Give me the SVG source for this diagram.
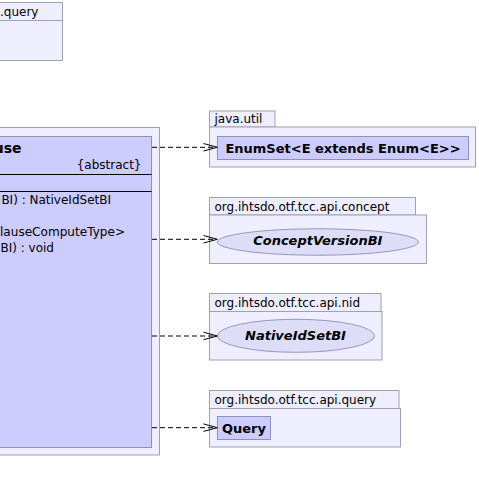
<svg xmlns="http://www.w3.org/2000/svg" width="479" height="493" viewBox="0 0 479 493">
<style>
.pkg{fill:#EEEEFF;stroke:#A0A0B0;stroke-width:1}
.cls{fill:#CCCCFF;stroke:#9090B0;stroke-width:1}
.ell{fill:#DDDDF8;stroke:#9898B8;stroke-width:1}
.sep{stroke:#000;stroke-width:1}
.ptxt{font-family:"DejaVu Sans",sans-serif;font-size:12px;fill:#000}
.ctxt{font-family:"DejaVu Sans",sans-serif;font-size:13px;font-weight:bold;fill:#000}
.itxt{font-family:"DejaVu Sans",sans-serif;font-size:13px;font-weight:bold;font-style:italic;fill:#000}
.mtxt{font-family:"DejaVu Sans",sans-serif;font-size:12px;fill:#000}
.dep{stroke:#000;stroke-width:1;stroke-dasharray:5,3;fill:none}
.head{stroke:#000;stroke-width:1;fill:none}
</style>
<rect width="479" height="493" fill="#FFFFFF"/>
<g id="pkg-query-top">
<rect class="pkg" x="-10" y="2.5" width="72.5" height="18"/>
<rect class="pkg" x="-10" y="20.5" width="72.5" height="40"/>
<text class="ptxt" x="0" y="16">.query</text>
</g>
<g id="pkg-main">
<rect class="pkg" x="-10" y="127.5" width="169.5" height="327.5"/>
</g>
<g id="class-main">
<rect class="cls" x="-10" y="136.5" width="161.5" height="311"/>
<line class="sep" x1="-10" y1="174.5" x2="151.5" y2="174.5"/>
<line class="sep" x1="-10" y1="191.5" x2="151.5" y2="191.5"/>
<text class="ctxt" x="21.5" y="152.5" text-anchor="end" style="font-size:14px">use</text>
<text class="ptxt" x="141.5" y="168.5" text-anchor="end">{abstract}</text>
<text class="mtxt" x="111" y="204" text-anchor="end">BI) : NativeIdSetBI</text>
<text class="mtxt" x="125" y="235.5" text-anchor="end" textLength="125" lengthAdjust="spacingAndGlyphs">lauseComputeType&gt;</text>
<text class="mtxt" x="54" y="251.5" text-anchor="end">BI) : void</text>
</g>
<g id="pkg-java-util">
<rect class="pkg" x="209.5" y="111" width="65.5" height="16"/>
<rect class="pkg" x="209.5" y="127" width="266" height="40"/>
<text class="ptxt" x="214.5" y="123.3">java.util</text>
</g>
<g id="class-enumset">
<rect class="cls" x="217.5" y="136.5" width="251" height="23"/>
<text class="ctxt" x="343" y="152.5" text-anchor="middle">EnumSet&lt;E extends Enum&lt;E&gt;&gt;</text>
</g>
<g id="pkg-concept">
<rect class="pkg" x="209.5" y="197.5" width="206" height="17.5"/>
<rect class="pkg" x="209.5" y="215" width="217" height="48.5"/>
<text class="ptxt" x="214.5" y="211">org.ihtsdo.otf.tcc.api.concept</text>
</g>
<g id="iface-conceptversion">
<ellipse class="ell" cx="317.8" cy="242" rx="100.5" ry="13.2"/>
<text class="itxt" x="317.8" y="244.5" text-anchor="middle">ConceptVersionBI</text>
</g>
<g id="pkg-nid">
<rect class="pkg" x="209.5" y="293.5" width="171.5" height="18"/>
<rect class="pkg" x="209.5" y="311.5" width="172.5" height="48.5"/>
<text class="ptxt" x="214.5" y="306.7">org.ihtsdo.otf.tcc.api.nid</text>
</g>
<g id="iface-nativeidset">
<ellipse class="ell" cx="296" cy="335.8" rx="78.5" ry="16.5"/>
<text class="itxt" x="295.5" y="340" text-anchor="middle">NativeIdSetBI</text>
</g>
<g id="pkg-query">
<rect class="pkg" x="209.5" y="390.5" width="189.5" height="18"/>
<rect class="pkg" x="209.5" y="408.5" width="191" height="38.5"/>
<text class="ptxt" x="214.5" y="404">org.ihtsdo.otf.tcc.api.query</text>
</g>
<g id="class-query">
<rect class="cls" x="217.5" y="416.5" width="53" height="23"/>
<text class="ctxt" x="244" y="433" text-anchor="middle">Query</text>
</g>
<g id="connectors">
<line class="dep" x1="152" y1="147.3" x2="216.5" y2="147.3"/>
<polyline class="head" points="203.5,143.5 217.3,147.3 203.5,151"/>
<line class="dep" x1="152" y1="239.3" x2="216.5" y2="239.3"/>
<polyline class="head" points="203.5,235.5 217.3,239.3 203.5,243"/>
<line class="dep" x1="152" y1="336" x2="216.5" y2="336"/>
<polyline class="head" points="203.5,332.2 217.3,336 203.5,339.7"/>
<line class="dep" x1="152" y1="427.7" x2="216.5" y2="427.7"/>
<polyline class="head" points="203.5,423.9 217.3,427.7 203.5,431.4"/>
</g>
</svg>
